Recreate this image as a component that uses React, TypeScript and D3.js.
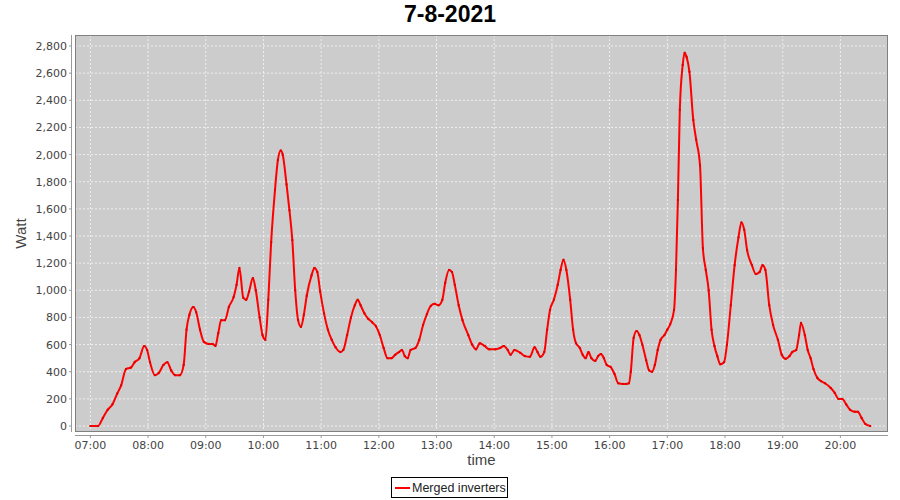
import React from "react";
import * as d3 from "d3";

const title = "7-8-2021";
const seriesName = "Merged inverters";
const xLabel = "time";
const yLabel = "Watt";

const times: string[] = [
  "07:00","07:08","07:13","07:18","07:23","07:28","07:32","07:37","07:42","07:46",
  "07:51","07:56","07:59","08:02","08:07","08:11","08:16","08:20","08:24","08:28",
  "08:33","08:37","08:40","08:43","08:47","08:50","08:54","08:58","09:03","09:07",
  "09:10","09:13","09:16","09:20","09:24","09:29","09:32","09:35","09:39","09:42",
  "09:45","09:49","09:52","09:56","09:59","10:02","10:05","10:08","10:12","10:15",
  "10:18","10:20","10:24","10:27","10:30","10:33","10:36","10:39","10:42","10:45",
  "10:50","10:53","10:56","10:59","11:03","11:07","11:11","11:15","11:20","11:23",
  "11:27","11:31","11:35","11:38","11:41","11:45","11:49","11:53","11:57","12:01",
  "12:05","12:09","12:13","12:17","12:21","12:24","12:27","12:30","12:33","12:38",
  "12:42","12:46","12:50","12:54","12:58","13:02","13:06","13:09","13:13","13:16",
  "13:19","13:23","13:27","13:33","13:37","13:41","13:45","13:50","13:55","14:01",
  "14:06","14:10","14:14","14:17","14:21","14:27","14:32","14:37","14:42","14:45",
  "14:48","14:52","14:55","14:58","15:02","15:06","15:09","15:12","15:15","15:19",
  "15:22","15:25","15:29","15:32","15:35","15:38","15:41","15:45","15:48","15:51",
  "15:54","15:57","16:01","16:05","16:09","16:14","16:17","16:20","16:22","16:25",
  "16:28","16:31","16:34","16:38","16:41","16:44","16:47","16:50","16:53","16:57",
  "17:00","17:03","17:07","17:09","17:11","17:13","17:16","17:18","17:20","17:23",
  "17:27","17:30","17:34","17:37","17:40","17:43","17:46","17:49","17:52","17:55",
  "17:59","18:02","18:06","18:10","18:14","18:17","18:20","18:23","18:28","18:32",
  "18:36","18:39","18:42","18:46","18:50","18:55","18:59","19:03","19:07","19:10",
  "19:14","19:17","19:19","19:23","19:26","19:29","19:32","19:36","19:40","19:44",
  "19:50","19:54","19:58","20:02","20:06","20:10","20:15","20:18","20:22","20:26","20:31",
];

const watts: number[] = [
  0,0,60,120,160,240,300,420,430,470,
  500,590,560,470,375,390,450,470,410,375,
  375,450,710,820,877,840,710,620,605,605,
  590,685,780,780,877,950,1040,1165,945,930,
  990,1090,1000,800,670,635,930,1355,1740,1960,
  2030,2000,1780,1590,1370,1000,780,730,820,960,
  1110,1165,1135,990,830,710,635,580,545,560,
  670,800,890,930,890,830,790,765,735,670,
  575,500,500,525,545,560,515,500,560,575,
  635,745,825,885,900,890,930,1055,1150,1135,
  1040,890,780,670,600,565,610,590,565,565,
  575,590,560,525,560,540,515,510,580,545,
  510,545,710,855,930,1040,1150,1225,1150,930,
  710,610,575,525,500,545,500,480,515,530,
  500,450,435,385,315,310,310,315,400,650,
  700,670,600,485,410,400,450,560,635,670,
  710,750,855,1150,1665,2330,2660,2750,2720,2610,
  2255,2110,1920,1310,1150,1000,710,590,515,455,
  470,600,890,1185,1390,1500,1445,1295,1185,1120,
  1135,1185,1150,890,745,635,525,495,515,545,
  560,670,760,670,560,500,420,355,330,315,
  280,245,200,200,160,120,105,105,60,15,0,
];

const yTicks: number[] = [0,200,400,600,800,1000,1200,1400,1600,1800,2000,2200,2400,2600,2800];
const xTickLabels: string[] = ["07:00","08:00","09:00","10:00","11:00","12:00","13:00","14:00","15:00","16:00","17:00","18:00","19:00","20:00"];
const xDomain: string[] = ["06:44", "20:49.5"];
const yDomain: number[] = [-44, 2881];

function toDate(s: string): Date {
  const [h, m] = s.split(":");
  const mm = parseFloat(m);
  const d = new Date(2021, 6, 8, parseInt(h, 10), 0, 0, 0);
  return new Date(d.getTime() + mm * 60000);
}

export default function App() {
  const W = 900, H = 500;
  const left = 75, right = 888, top = 35, bottom = 432;

  const x = d3.scaleTime().domain(xDomain.map(toDate)).range([left, right]);
  const y = d3.scaleLinear().domain(yDomain).range([bottom, top]);

  const n = Math.min(times.length, watts.length);
  const data = d3.range(n).map((i) => ({ t: toDate(times[i]), v: watts[i] }));

  const line = d3
    .line<{ t: Date; v: number }>()
    .x((d) => x(d.t))
    .y((d) => y(d.v))
    .curve(d3.curveMonotoneX);

  const fmt = d3.format(",");
  const tickFont = "'DejaVu Sans', sans-serif";
  const labelFont = "'Liberation Sans', sans-serif";
  const gray = "#444444";
  const axisY = 435;
  const axisX = 71;

  return (
    <svg width={W} height={H} style={{ position: "absolute", left: 0, top: 0, background: "#fff" }}>
      <rect x={0} y={0} width={W} height={H} fill="#ffffff" />
      <text x={450} y={22} textAnchor="middle" fontFamily={labelFont} fontWeight="bold" fontSize={23} fill="#000">
        {title}
      </text>

      <rect x={left} y={top} width={right - left} height={bottom - top} fill="#cccccc" />
      {/* gridlines */}
      {yTicks.map((v) => (
        <line key={"gy" + v} x1={left} x2={right} y1={y(v)} y2={y(v)} stroke="#ffffff" strokeWidth={0.7} strokeDasharray="2,2" />
      ))}
      {xTickLabels.map((s) => (
        <line key={"gx" + s} x1={x(toDate(s))} x2={x(toDate(s))} y1={top} y2={bottom} stroke="#ffffff" strokeWidth={0.7} strokeDasharray="2,2" />
      ))}

      <clipPath id="plotclip">
        <rect x={left} y={top} width={right - left} height={bottom - top} />
      </clipPath>
      <path d={line(data) || ""} fill="none" stroke="#ff0000" strokeWidth={2} strokeLinejoin="round" clipPath="url(#plotclip)" />
      {data.map((d, i) => (
        <rect key={"p" + i} x={x(d.t) - 1} y={y(d.v) - 1} width={2} height={2} fill="#e00000" />
      ))}

      <rect x={left + 0.5} y={top + 0.5} width={right - left - 1} height={bottom - top - 1} fill="none" stroke="#808080" strokeWidth={1} />

      {/* y axis */}
      <line x1={axisX + 0.5} x2={axisX + 0.5} y1={top} y2={bottom} stroke="#999999" />
      {yTicks.map((v) => (
        <g key={"yt" + v}>
          <line x1={axisX - 2} x2={axisX} y1={y(v)} y2={y(v)} stroke="#999999" />
          <text x={axisX - 4} y={y(v) + 4} textAnchor="end" fontFamily={tickFont} fontSize={11} fill={gray}>
            {fmt(v)}
          </text>
        </g>
      ))}
      <text
        transform={`translate(${26},${(top + bottom) / 2}) rotate(-90)`}
        textAnchor="middle"
        fontFamily={labelFont}
        fontSize={15}
        fill={gray}
      >
        {yLabel}
      </text>

      {/* x axis */}
      <line x1={left} x2={right} y1={axisY + 0.5} y2={axisY + 0.5} stroke="#999999" />
      {xTickLabels.map((s) => (
        <g key={"xt" + s}>
          <line x1={x(toDate(s))} x2={x(toDate(s))} y1={axisY} y2={axisY + 3} stroke="#999999" />
          <text x={x(toDate(s))} y={axisY + 14} textAnchor="middle" fontFamily={tickFont} fontSize={11} fill={gray}>
            {s}
          </text>
        </g>
      ))}
      <text x={(left + right) / 2} y={465} textAnchor="middle" fontFamily={labelFont} fontSize={15} fill={gray}>
        {xLabel}
      </text>

      {/* legend */}
      <rect x={391.5} y={477.5} width={116} height={20} fill="#ffffff" stroke="#000000" />
      <line x1={395} x2={410} y1={488} y2={488} stroke="#ff0000" strokeWidth={2} />
      <text x={412} y={492} fontFamily={labelFont} fontSize={12.5} fill="#222222">
        {seriesName}
      </text>
    </svg>
  );
}
